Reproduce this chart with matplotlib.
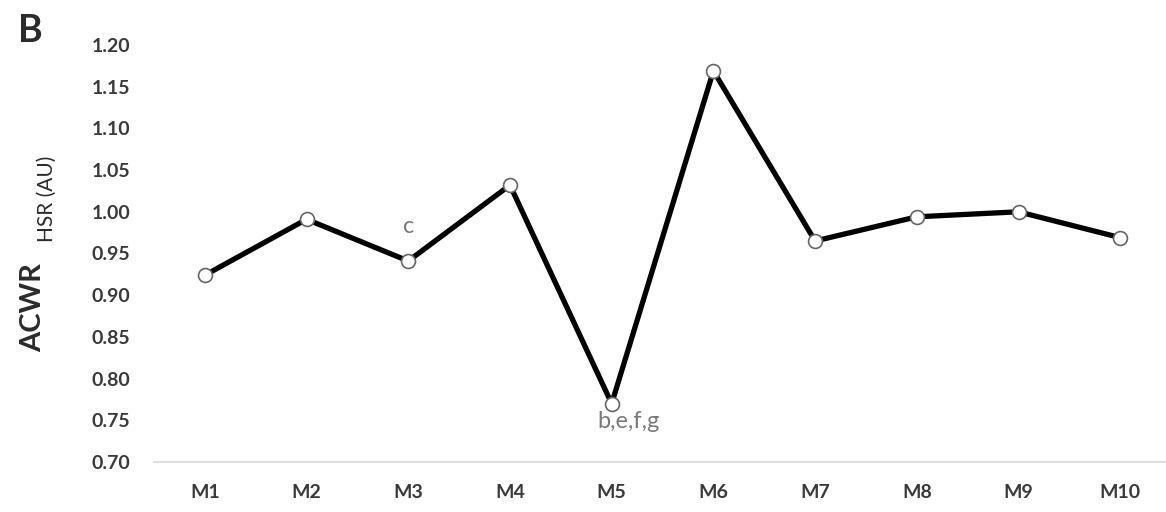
import matplotlib
matplotlib.use("Agg")
import matplotlib.pyplot as plt

# Acute:chronic workload ratio (high-speed running) per match
matches = ["M1", "M2", "M3", "M4", "M5", "M6", "M7", "M8", "M9", "M10"]
acwr_hsr = [0.924, 0.991, 0.941, 1.032, 0.770, 1.169, 0.965, 0.994, 1.000, 0.969]
y_ticks = [0.70, 0.75, 0.80, 0.85, 0.90, 0.95, 1.00, 1.05, 1.10, 1.15, 1.20]

# significance letters placed next to selected matches
sig_labels = {"M3": "c", "M5": "b,e,f,g"}

FONT = "Lato"
TEXT_DARK = "#3a3a3a"
TEXT_GREY = "#7a7a7a"

fig = plt.figure(figsize=(11.66, 5.12), dpi=100)
ax = fig.add_axes([154 / 1166, 50 / 512, 1012 / 1166, 417 / 512])

x = list(range(len(matches)))
ax.plot(x, acwr_hsr, color="black", linewidth=3.8, zorder=2,
        marker="o", markersize=10, markerfacecolor="white",
        markeredgecolor="#666666", markeredgewidth=1.2)

ax.set_xlim(-0.5, 9.45)
ax.set_ylim(y_ticks[0], y_ticks[-1])
ax.set_yticks(y_ticks)
ax.set_yticklabels([f"{t:.2f}" for t in y_ticks], fontfamily=FONT,
                   fontsize=14, fontweight="bold", color=TEXT_DARK)
ax.set_xticks(x)
ax.set_xticklabels(matches, fontfamily=FONT, fontsize=14,
                   fontweight="bold", color=TEXT_DARK)
ax.tick_params(axis="y", length=0, pad=17)
ax.tick_params(axis="x", length=0, pad=16)

for side in ("top", "right", "left"):
    ax.spines[side].set_visible(False)
ax.spines["bottom"].set_color("#d9d9d9")
ax.spines["bottom"].set_linewidth(1.2)

# significance annotations
i3 = matches.index("M3")
ax.annotate(sig_labels["M3"], (i3, acwr_hsr[i3]), xytext=(0, 17),
            textcoords="offset points", ha="center", va="bottom",
            fontfamily=FONT, fontsize=17, color=TEXT_GREY)
i5 = matches.index("M5")
ax.annotate(sig_labels["M5"], (i5, acwr_hsr[i5]), xytext=(12, -5),
            textcoords="offset points", ha="center", va="top",
            fontfamily=FONT, fontsize=17, color=TEXT_GREY)

# y-axis title with subscript
fig.text(33 / 1166, 1 - 308 / 512, "ACWR", rotation=90, ha="center",
         va="center", fontfamily=FONT, fontsize=21, fontweight="bold",
         color="#2b2b2b")
fig.text(47 / 1166, 1 - 199 / 512, "HSR (AU)", rotation=90, ha="center",
         va="center", fontfamily=FONT, fontsize=15, color="#2b2b2b")

# panel letter
fig.text(30 / 1166, 1 - 31 / 512, "B", ha="center", va="center",
         fontfamily=FONT, fontsize=27, fontweight="bold", color="#2b2b2b")

fig.savefig("out.png", dpi=100, facecolor="white")
